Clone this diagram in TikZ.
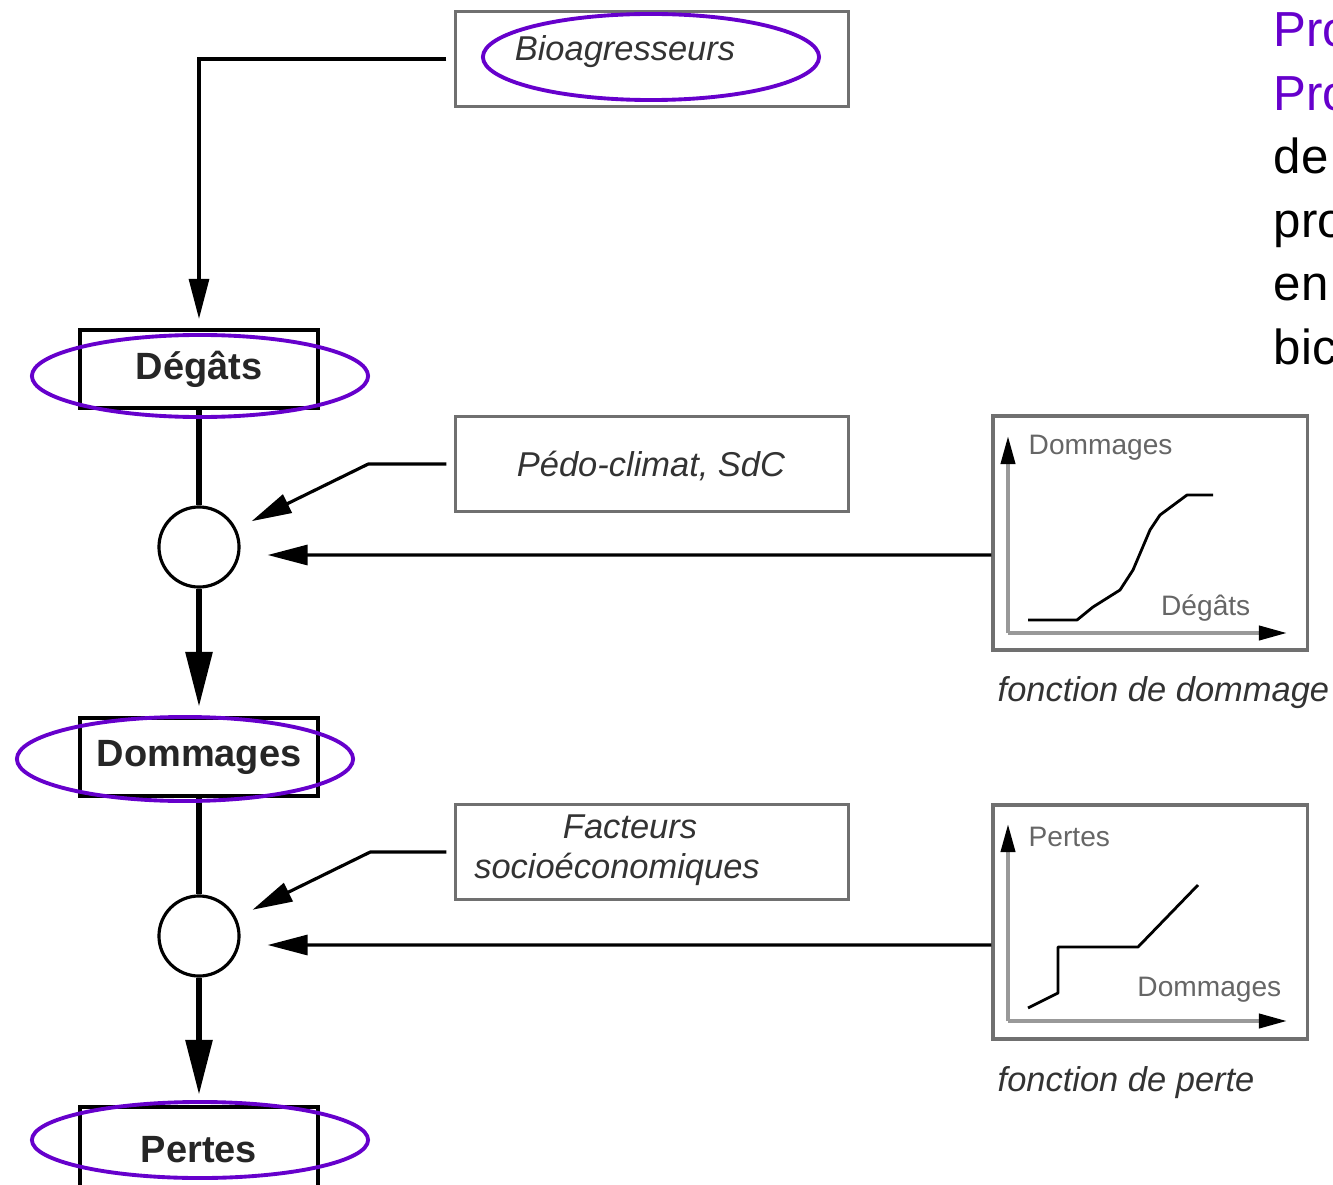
\documentclass[tikz,border=0pt]{standalone}
\usepackage{fontspec}
\setmainfont{Liberation Sans}
\usetikzlibrary{arrows.meta}
\definecolor{annot}{HTML}{6600CC}
\definecolor{boxgray}{HTML}{707070}
\definecolor{txtgray}{HTML}{333333}
\begin{document}
\begin{tikzpicture}[x=0.01cm,y=-0.01cm,
  every node/.style={inner sep=0pt},
  mainbox/.style={draw=black,line width=1.2pt,minimum width=2.38cm,minimum height=0.78cm,font=\fontsize{10.8}{13}\selectfont\bfseries,text=black!85},
  factbox/.style={draw=boxgray,line width=0.9pt,minimum width=3.92cm,minimum height=0.95cm},
  facttxt/.style={font=\fontsize{9.8}{12}\selectfont\itshape,text=txtgray},
  graphbox/.style={draw=boxgray,line width=0.9pt,minimum width=3.14cm,minimum height=2.34cm},
  graphtxt/.style={font=\fontsize{8}{10}\selectfont,text=black!60},
  caption/.style={font=\fontsize{9.8}{12}\selectfont\itshape,text=txtgray,anchor=west},
  junction/.style={circle,draw=black,line width=0.9pt,minimum size=0.8cm},
  feed/.style={line width=0.9pt,-{Triangle[length=0.4cm,width=0.2cm]}},
  flow/.style={line width=1.7pt,-{Triangle[length=0.55cm,width=0.26cm]}},
  circled/.style={draw=annot,line width=1.1pt},
  axis/.style={draw=black!40,line width=1.1pt,-{Triangle[length=0.28cm,width=0.14cm,color=black]}},
  curve/.style={line width=0.8pt,line join=round}]
  \useasboundingbox (0,0) rectangle (1333,1185);

  % Chaine principale
  \node[mainbox] (deg) at (199,369) {Dégâts};
  \node[junction] (c1) at (199,547) {};
  \node[mainbox] (dom) at (199,757) {Dommages};
  \node[junction] (c2) at (199,936) {};
  \node[mainbox,minimum height=0.86cm] (per) at (199,1150) {Pertes};

  % Facteurs
  \node[factbox] (bio) at (652,59) {};
  \node[facttxt] (biot) at (625,52) {Bioagresseurs};
  \node[factbox] (pedo) at (652,464) {};
  \node[facttxt] (pedot) at (651,466) {Pédo-climat, SdC};
  \node[factbox] (fact) at (652,852) {};
  \node[facttxt] (factt1) at (630,827) {Facteurs};
  \node[facttxt] (factt2) at (617,869) {socioéconomiques};

  % Fonction de dommage
  \node[graphbox] (g1) at (1150,533) {};
  \draw[axis] (1008,633) -- (1008,436);
  \draw[axis] (1008,633) -- (1287,633);
  \draw[curve] (1028,620) -- (1077,620) -- (1093,607) -- (1120,590) -- (1133,570)
    -- (1150,530) -- (1160,515) -- (1187,495) -- (1213,495);
  \node[graphtxt,anchor=west] (g1y) at (1028,448) {Dommages};
  \node[graphtxt,anchor=east] (g1x) at (1251,608) {Dégâts};
  \node[caption] (cap1) at (997,693) {fonction de dommage};

  % Fonction de perte
  \node[graphbox] (g2) at (1150,922) {};
  \draw[axis] (1008,1021) -- (1008,824);
  \draw[axis] (1008,1021) -- (1287,1021);
  \draw[curve] (1028,1008) -- (1058,993) -- (1058,947) -- (1138,947) -- (1198,885);
  \node[graphtxt,anchor=west] (g2y) at (1028,837) {Pertes};
  \node[graphtxt,anchor=east] (g2x) at (1282,990) {Dommages};
  \node[caption] (cap2) at (997,1083) {fonction de perte};

  % Liaisons
  \draw[line width=1.7pt] (deg.south) -- (c1.north);
  \draw[flow,shorten >=0.09cm] (c1.south) -- (dom.north);
  \draw[line width=1.7pt] (dom.south) -- (c2.north);
  \draw[flow,shorten >=0.1cm] (c2.south) -- (per.north);
  \draw[feed,shorten <=0.08cm,shorten >=0.09cm] (bio.west) -| (deg.north);
  \draw[feed,shorten <=0.08cm,shorten >=0.17cm] (pedo.west) -- ++(-86,0) -- (c1);
  \draw[feed,shorten <=0.08cm,shorten >=0.18cm] (fact.west) -- ++(-84,0) -- (c2);
  \draw[feed,shorten >=0.27cm] ([yshift=-0.22cm]g1.west) -- ([yshift=-0.08cm]c1.east);
  \draw[feed,shorten >=0.27cm] ([yshift=-0.23cm]g2.west) -- ([yshift=-0.09cm]c2.east);

  % Annotations
  \draw[circled] (651,57) ellipse [x radius=1.68cm, y radius=0.43cm];
  \draw[circled] (200,376) ellipse [x radius=1.68cm, y radius=0.41cm];
  \draw[circled] (185,759) ellipse [x radius=1.68cm, y radius=0.42cm];
  \draw[circled] (200,1140) ellipse [x radius=1.68cm, y radius=0.38cm];

  % Texte a droite
  \foreach \word/\col [count=\i from 0] in {Pro/annot,Pro/annot,de/black,pro/black,en/black,bic/black}
    \node[anchor=base west,font=\fontsize{14}{17}\selectfont,text=\col] (side\i) at (1273,{47+63.4*\i}) {\word};
\end{tikzpicture}
\end{document}
